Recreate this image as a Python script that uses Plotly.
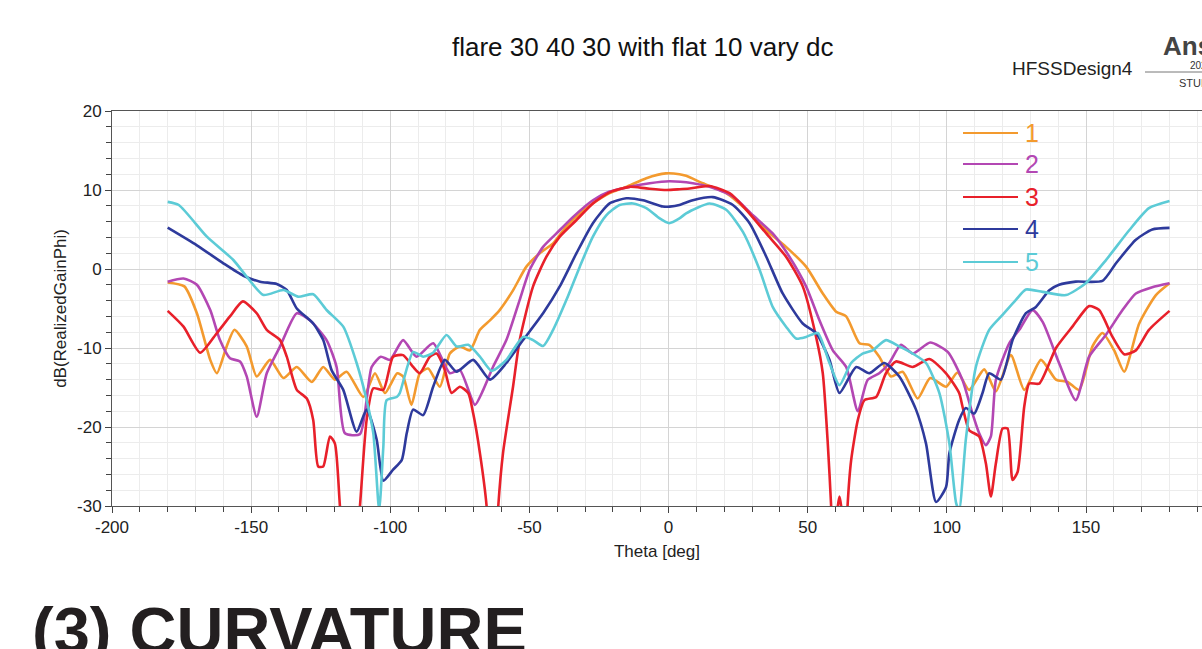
import plotly.graph_objects as go

# ---------------- data ----------------
theta_1 = [-180, -174, -169.5, -164.7, -162.3, -158.8, -156, -151.6, -148, -143.2, -138.4, -133.6, -128.2, -124.1,
           -119.9, -115.7, -109.7, -105.5, -101.9, -97.5, -95.4, -92.4, -89.4, -86.4, -82.2, -78.6, -75, -71.4,
           -67.8, -64.2, -60.7, -55.9, -51.1, -46.3, -41.5, -36.7, -31.9, -27.2, -21.2, -15.2, -8, -1, 3.9, 6.3,
           12.3, 20.7, 27.9, 35.1, 42.2, 49.4, 55.4, 60.2, 63.8, 68.6, 72.1, 75.7, 79.9, 84.1, 89.5, 94, 99.7,
           103.8, 108, 113.4, 117.6, 123, 127.8, 133.8, 139.2, 143.4, 147.5, 152.3, 155.9, 160.1, 163.7, 169.1,
           175.1, 180]
gain_1 = [-1.7, -2.2, -5.6, -11.5, -13.2, -9.8, -7.7, -9.8, -13.6, -11.5, -13.8, -12.4, -14.3, -12.4,
          -14.0, -13.0, -16.2, -13.2, -15.7, -13.2, -13.6, -17.2, -13.2, -12.6, -14.9, -10.7, -9.8, -10.3,
          -7.7, -6.5, -5.2, -2.7, 0.3, 2.0, 3.25, 5.4, 7.05, 8.3, 9.6, 10.4, 11.5, 12.1, 12.0, 11.8,
          10.85, 9.6, 7.5, 4.9, 2.8, 0.3, -3.1, -5.4, -6.0, -9.4, -9.6, -11.1, -13.6, -13.0, -16.4, -13.8, -14.9,
          -13.1, -15.3, -12.7, -15.5, -10.9, -15.3, -11.5, -14.0, -14.3, -15.3, -9.8, -8.1, -10.3, -13.0, -6.9,
          -3.3, -1.8]

theta_2 = [-180, -174.3, -169.5, -164.7, -161.2, -157.6, -154, -151.6, -148, -144.4, -139.6, -133.6, -128.9,
           -122.9, -119.3, -116.3, -110.9, -106.7, -103.4, -100.1, -95.4, -90.6, -84.6, -78.6, -75, -69.6, -66.6,
           -63.1, -58.3, -53.5, -49.9, -45.1, -40.3, -34.3, -27.2, -21.2, -14, -6.8, 0.2, 8.7, 14.7, 23.1, 30.3,
           37.4, 43.4, 49.4, 54.2, 59, 63.8, 68, 71.5, 75.7, 79.3, 83.5, 87.7, 94, 100.3, 105.6, 109.2, 111.6,
           114, 115.8, 117.6, 122.4, 126, 130.8, 134.4, 140.3, 146.3, 151.1, 157.1, 163.1, 167.9, 173.8, 180]
gain_2 = [-1.6, -1.2, -2.0, -5.2, -9.0, -11.3, -11.7, -13.6, -18.7, -13.2, -9.8, -5.6, -6.5,
          -9.0, -12.4, -20.8, -20.9, -12.4, -11.1, -11.5, -9.0, -11.1, -9.4, -13.2, -12.8, -17.2, -15.3,
          -12.4, -9.0, -3.9, -0.1, 2.8, 4.5, 6.6, 8.7, 9.8, 10.4, 10.85, 11.1, 10.85, 10.4, 9.2, 6.8,
          4.5, 1.56, -2.2, -6.5, -10.3, -12.4, -18.0, -14.05, -13.2, -11.9, -9.6, -10.7, -9.3, -10.5, -14.05,
          -18.3, -20.8, -22.3, -21.2, -14.05, -9.4, -7.7, -5.2, -6.7, -11.9, -16.6, -11.1, -8.35, -5.2, -3.1,
          -2.3, -1.8]

theta_3 = [-180, -174.3, -168.3, -162.3, -157.6, -153, -148, -144.4, -139.6, -137.2, -133.6, -130, -127.7,
           -125.9, -124.1, -121.7, -119.9, -118.1, -114.5, -110.9, -108.5, -106.1, -102.5, -99, -95.4, -91.8,
           -89.4, -85.8, -83.4, -80.4, -78, -75, -72, -70.2, -67.8, -65.4, -63.3, -61.2, -59.5, -55.9, -53.5,
           -48.7, -43.9, -39.1, -33.1, -27.2, -21.2, -14, -8, -0.8, 3.9, 7.5, 14.7, 21.9, 27.9, 35.1, 42.2,
           48.2, 53, 55.4, 57.2, 58.4, 59.5, 60.5, 61.4, 62.3, 63.2, 64.3, 65.6, 68, 70.4, 74.6, 78.1, 81.7,
           87.7, 93.7, 99.7, 104.4, 105.6, 108, 111.6, 114, 115.8, 117.6, 120, 121.8, 123.6, 125.4, 127.8,
           129.6, 133.2, 139.2, 145.1, 151.1, 154.7, 159.5, 163.7, 167.9, 172.6, 180]
gain_3 = [-5.3, -7.3, -10.6, -8.1, -6.0, -4.1, -5.6, -7.7, -9.0, -11.1, -15.3, -16.4, -19.1,
          -25.0, -25.0, -21.2, -22.1, -30, -45, -30, -19.1, -15.1, -15.3, -11.1, -10.9, -12.4,
          -13.2, -11.1, -10.7, -12.8, -15.7, -14.9, -15.7, -18.3, -23.3, -30, -45, -30, -23.3, -14.9, -9.0,
          -2.2, 1.56, 4.1, 6.2, 8.3, 9.7, 10.4, 10.2, 10.0, 10.1, 10.2, 10.5, 9.6, 7.5, 4.5, 1.56,
          -2.2, -8.6, -13.2, -22.1, -30, -40, -31, -28.8, -31, -40, -30, -24.2, -19.1, -16.6, -16.2, -13.2, -11.7,
          -12.4, -11.4, -13.2, -15.7, -17.4, -20.4, -21.2, -24.6, -28.8, -24.6, -20.2, -20.2, -26.7, -25.7, -17.4,
          -14.5, -14.5, -10.0, -7.3, -4.7, -5.2, -8.6, -10.8, -10.3, -7.7, -5.3]

theta_4 = [-180, -169.5, -160, -152.8, -146.8, -140.8, -137.2, -133.6, -127.7, -124.1, -121.1, -116.9, -112.1,
           -108.5, -104.9, -102.5, -99, -95.9, -94.1, -91.8, -88.2, -84.6, -80.4, -76.2, -70.2, -64.2, -58.3,
           -52.3, -45.1, -39.1, -33.1, -27.2, -21.2, -15.2, -9.2, -2, 0.4, 3.9, 8.7, 15.9, 23.1, 29.1, 35.1, 41,
           48.2, 53, 57.8, 61.4, 67.4, 72.1, 77.5, 82.9, 88.9, 92.5, 96.1, 99.7, 100.9, 104.4, 106.8, 109.8,
           112.8, 115.2, 119.4, 123.6, 128.4, 132, 136.8, 140.3, 146.3, 155.9, 160.7, 167.9, 173.8, 180]
gain_4 = [5.23, 3.0, 0.72, -0.85, -1.6, -1.9, -2.66, -5.0, -6.9, -9.0, -12.8, -15.3, -20.6,
          -17.8, -21.6, -26.8, -25.4, -24.2, -20.8, -17.8, -18.5, -14.9, -11.5, -13.0, -11.5, -14.0, -11.9,
          -9.0, -5.6, -2.2, 2.0, 5.8, 8.3, 8.95, 8.7, 7.9, 7.9, 8.1, 8.7, 9.1, 8.1, 5.8, 1.56, -3.1,
          -6.9, -8.1, -11.5, -15.7, -12.4, -13.2, -11.9, -13.6, -17.8, -22.1, -29.5, -27.6, -23.3, -19.1, -17.6,
          -18.3, -15.7, -13.2, -14.0, -9.0, -5.6, -4.8, -2.7, -2.0, -1.6, -1.5, 0.7, 3.7, 5.0, 5.2]

theta_5 = [-180, -176, -165.9, -156.4, -151.6, -145.6, -138.4, -133.1, -127.7, -122.9, -116.9, -112.1, -108.5,
           -106.1, -104, -102.5, -101.3, -97.7, -96.6, -91.8, -88.2, -84.6, -79.8, -76.2, -72, -67.8, -63.6,
           -58.3, -52.3, -48.7, -45.1, -41.5, -36.7, -31.9, -27.2, -22.4, -17.6, -12.8, -8, -3.2, 0.2, 3.9, 6.3,
           14.7, 20.7, 26.7, 32.7, 37.4, 42.2, 45.8, 49.4, 53.6, 57.8, 61.4, 65.6, 69.7, 73.3, 78.1, 82.9, 87.7,
           92.5, 97.3, 100.9, 103.3, 104.4, 106.8, 110.4, 115.2, 120, 124.8, 128.4, 134.4, 142.8, 149.9, 157.1,
           165.5, 172.6, 180]
gain_5 = [8.5, 8.1, 4.09, 1.14, -0.97, -3.29, -2.66, -3.5, -3.2, -5.19, -7.3, -11.9, -16.6,
          -20.8, -30.5, -22.5, -16.6, -16.2, -15.7, -10.5, -11.1, -10.6, -8.35, -9.8, -9.6, -11.1, -12.9,
          -11.5, -8.6, -9.0, -9.75, -7.7, -3.9, 0.3, 4.1, 6.8, 8.1, 8.3, 7.7, 6.4, 5.8, 6.4, 7.05,
          8.3, 7.5, 4.7, -0.1, -4.8, -7.3, -8.8, -8.6, -8.1, -11.9, -14.7, -11.9, -10.7, -10.3, -9.0, -9.8, -10.7,
          -11.9, -15.7, -22.1, -29.6, -30.5, -21.6, -12.4, -7.7, -5.8, -3.9, -2.6, -2.9, -3.3, -1.8, 1.1,
          4.9, 7.7, 8.6]

series_names = ["1", "2", "3", "4", "5"]
series_colors = ["#f39a2e", "#b347b3", "#e8202a", "#2e3a9c", "#5ccbd6"]
thetas = [theta_1, theta_2, theta_3, theta_4, theta_5]
gains = [gain_1, gain_2, gain_3, gain_4, gain_5]

x_ticks = [-200, -150, -100, -50, 0, 50, 100, 150]
y_ticks = [20, 10, 0, -10, -20, -30]

title_text = "flare 30 40 30 with flat 10 vary dc"
x_title = "Theta [deg]"
y_title = "dB(RealizedGainPhi)"
caption_text = "(3) CURVATURE"

# ---------------- layout geometry (pixels) ----------------
W, H = 1202, 649
PL, PR, PT, PB = 112, 1202, 111, 506   # plot area edges
FONT = "Liberation Sans, Arial"


def px(xp):
    return (xp - PL) / (PR - PL)


def py(yp):
    return (PB - yp) / (PB - PT)


fig = go.Figure()
for name, col, th, g in zip(series_names, series_colors, thetas, gains):
    fig.add_trace(go.Scatter(x=th, y=g, mode="lines", name=name,
                             line=dict(color=col, width=2.6, shape="spline", smoothing=0.6),
                             showlegend=False, hoverinfo="x+y+name"))

# custom legend (line sample + coloured label)
leg_y = [133, 164, 197, 229, 262]
shapes = []
annotations = []
for name, col, ly in zip(series_names, series_colors, leg_y):
    shapes.append(dict(type="line", xref="paper", yref="paper", x0=px(963), x1=px(1018),
                       y0=py(ly), y1=py(ly), line=dict(color=col, width=2)))
    annotations.append(dict(xref="paper", yref="paper", x=px(1023), y=py(ly), xanchor="left",
                            yanchor="middle", text=name, showarrow=False,
                            font=dict(family=FONT, size=25, color=col)))

# header texts
annotations.append(dict(xref="paper", yref="paper", x=px(643), y=py(47), xanchor="center", yanchor="middle",
                        text=title_text, showarrow=False,
                        font=dict(family=FONT, size=26, color="#111111")))
annotations.append(dict(xref="paper", yref="paper", x=px(1010), y=py(68), xanchor="left", yanchor="middle",
                        text="HFSSDesign4", showarrow=False,
                        font=dict(family=FONT, size=19, color="#222222")))
annotations.append(dict(xref="paper", yref="paper", x=px(1161), y=py(46), xanchor="left", yanchor="middle",
                        text="<b>Ansys</b>", showarrow=False,
                        font=dict(family=FONT, size=26, color="#444444")))
annotations.append(dict(xref="paper", yref="paper", x=px(1188), y=py(65), xanchor="left", yanchor="middle",
                        text="2020", showarrow=False,
                        font=dict(family=FONT, size=10, color="#333333")))
annotations.append(dict(xref="paper", yref="paper", x=px(1177), y=py(83), xanchor="left", yanchor="middle",
                        text="STUDENT", showarrow=False,
                        font=dict(family=FONT, size=11, color="#333333")))
shapes.append(dict(type="line", xref="paper", yref="paper", x0=px(1145), x1=px(1205),
                   y0=py(72), y1=py(72), line=dict(color="#777777", width=1)))

# big caption
annotations.append(dict(xref="paper", yref="paper", x=px(30), y=py(630), xanchor="left", yanchor="middle",
                        text="<b>" + caption_text + "</b>", showarrow=False,
                        font=dict(family=FONT, size=65, color="#231f20")))

fig.update_layout(
    width=W, height=H,
    margin=dict(l=PL, r=W - PR, t=PT, b=H - PB, pad=0),
    paper_bgcolor="white", plot_bgcolor="white",
    font=dict(family=FONT, size=17, color="#222222"),
    shapes=shapes, annotations=annotations,
    xaxis=dict(range=[-200, -200 + (PR - PL) / 2.783], tickvals=x_ticks, ticktext=[str(v) for v in x_ticks],
               showgrid=True, gridcolor="#d4d4d4", gridwidth=1,
               ticks="outside", ticklen=6, tickcolor="#444444", tickfont=dict(size=17),
               showline=True, linecolor="#555555", linewidth=1, mirror=True, zeroline=False,
               minor=dict(dtick=10, tick0=0, showgrid=True, gridcolor="#ececec", ticks="outside",
                          ticklen=5, tickcolor="#444444"),
               title=dict(text=x_title, font=dict(size=17), standoff=8)),
    yaxis=dict(range=[-30, 20], tickvals=y_ticks, ticktext=[str(v) for v in y_ticks],
               showgrid=True, gridcolor="#d4d4d4", gridwidth=1,
               ticks="outside", ticklen=6, tickcolor="#444444", tickfont=dict(size=17),
               showline=True, linecolor="#555555", linewidth=1, zeroline=False,
               minor=dict(dtick=2, tick0=0, showgrid=True, gridcolor="#ececec", ticks="outside",
                          ticklen=5, tickcolor="#444444"),
               title=dict(text=y_title, font=dict(size=17), standoff=6)),
)

fig.write_html("out.html")
